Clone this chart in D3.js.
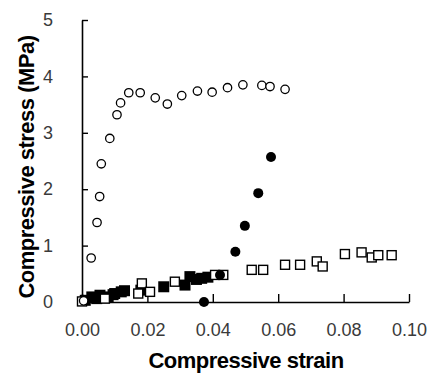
<!DOCTYPE html>
<html>
<head>
<meta charset="utf-8">
<script src="https://cdn.jsdelivr.net/npm/d3@7"></script>
<style>
  body { margin: 0; background: #fff; }
  svg { display: block; }
</style>
</head>
<body>
<svg id="area" width="445" height="379"></svg>
<script>
// open circles
const openCircles = [
  [0.0005, 0.02], [0.0028, 0.78], [0.0046, 1.41], [0.0054, 1.87], [0.0059, 2.45],
  [0.0085, 2.90], [0.0107, 3.32], [0.0118, 3.53], [0.0143, 3.71], [0.0178, 3.71],
  [0.0224, 3.62], [0.0261, 3.51], [0.0305, 3.66], [0.0353, 3.74], [0.0398, 3.72],
  [0.0445, 3.80], [0.0492, 3.85], [0.0550, 3.84], [0.0575, 3.82], [0.0621, 3.77]
];
// filled circles
const filledCircles = [
  [0.0373, 0.0], [0.0422, 0.48], [0.0469, 0.89], [0.0498, 1.35], [0.0539, 1.93], [0.0578, 2.57]
];
// filled squares
const filledSquares = [
  [0.0010, 0.03], [0.0030, 0.09], [0.0045, 0.06], [0.0055, 0.12], [0.0080, 0.09],
  [0.0095, 0.13], [0.0100, 0.15], [0.0120, 0.18], [0.0130, 0.20], [0.0180, 0.21],
  [0.0250, 0.27], [0.0315, 0.30], [0.0330, 0.45], [0.0350, 0.40], [0.0366, 0.42],
  [0.0385, 0.44]
];
// open squares
const openSquares = [
  [0.0000, 0.01], [0.0070, 0.06], [0.0172, 0.15], [0.0183, 0.33], [0.0208, 0.18],
  [0.0284, 0.36], [0.0407, 0.48], [0.0432, 0.48], [0.0519, 0.57], [0.0554, 0.57],
  [0.0621, 0.66], [0.0667, 0.66], [0.0718, 0.72], [0.0736, 0.63], [0.0804, 0.85],
  [0.0855, 0.88], [0.0886, 0.79], [0.0906, 0.83], [0.0947, 0.83]
];
const xTicks = [0, 0.02, 0.04, 0.06, 0.08, 0.10];
const yTicks = [0, 1, 2, 3, 4, 5];

const svg = d3.select('#area');

const x = d3.scaleLinear([0, 0.1], [82, 409]);
const y = d3.scaleLinear([0, 5], [302, 20]);

const font = 'Liberation Sans, Arial, sans-serif';

// axes
const gx = svg.append('g')
  .attr('transform', 'translate(0,302)')
  .call(d3.axisBottom(x).tickValues(xTicks).tickFormat(d3.format('.2f'))
    .tickSizeInner(-8).tickSizeOuter(0).tickPadding(21));
const gy = svg.append('g')
  .attr('transform', 'translate(82,0)')
  .call(d3.axisLeft(y).tickValues(yTicks).tickFormat(d3.format('d'))
    .tickSizeInner(-6).tickSizeOuter(0).tickPadding(29));

[gx, gy].forEach((g) => {
  g.select('.domain').attr('stroke', '#000').attr('stroke-width', 1.6);
  g.selectAll('.tick line').attr('stroke', '#000').attr('stroke-width', 1.4);
  g.selectAll('.tick text')
    .attr('fill', '#3a3a3a')
    .style('font', `18px ${font}`);
});

// filled squares
svg.append('g')
  .selectAll('rect')
  .data(filledSquares)
  .join('rect')
  .attr('x', (d) => x(d[0]) - 5.5)
  .attr('y', (d) => y(d[1]) - 5.5)
  .attr('width', 11)
  .attr('height', 11)
  .attr('fill', '#000');

// open squares
svg.append('g')
  .selectAll('rect')
  .data(openSquares)
  .join('rect')
  .attr('x', (d) => x(d[0]) - 4.5)
  .attr('y', (d) => y(d[1]) - 4.5)
  .attr('width', 9)
  .attr('height', 9)
  .attr('fill', '#fff')
  .attr('stroke', '#000')
  .attr('stroke-width', 1.4);

// filled circles
svg.append('g')
  .selectAll('circle')
  .data(filledCircles)
  .join('circle')
  .attr('cx', (d) => x(d[0]))
  .attr('cy', (d) => y(d[1]))
  .attr('r', 5)
  .attr('fill', '#000');

// open circles
svg.append('g')
  .selectAll('circle')
  .data(openCircles)
  .join('circle')
  .attr('cx', (d) => x(d[0]))
  .attr('cy', (d) => y(d[1]))
  .attr('r', 4.2)
  .attr('fill', '#fff')
  .attr('stroke', '#000')
  .attr('stroke-width', 1.3);

// titles
svg.append('text')
  .attr('x', 246)
  .attr('y', 368)
  .attr('text-anchor', 'middle')
  .style('font', `bold 22px ${font}`)
  .style('letter-spacing', '-0.5px')
  .text('Compressive strain');

svg.append('text')
  .attr('transform', 'translate(34,167) rotate(-90)')
  .attr('text-anchor', 'middle')
  .style('font', `bold 22px ${font}`)
  .style('letter-spacing', '-0.5px')
  .text('Compressive stress (MPa)');
</script>
</body>
</html>
